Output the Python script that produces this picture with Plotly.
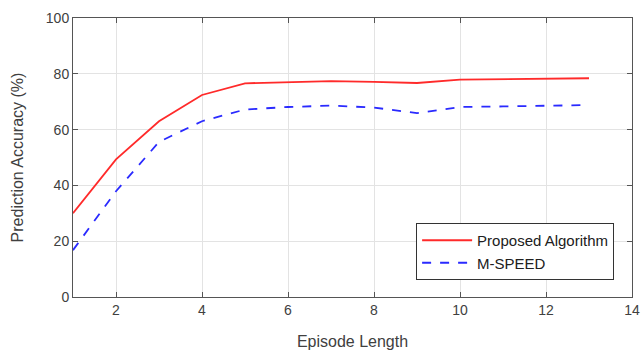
import plotly.graph_objects as go

episode_length = list(range(1, 14))
proposed = [30.0, 49.3, 63.0, 72.4, 76.6, 76.9, 77.4, 77.1, 76.7, 77.9, 78.1, 78.2, 78.4]
mspeed = [16.8, 37.9, 55.6, 63.0, 67.2, 68.1, 68.6, 67.9, 65.9, 68.1, 68.3, 68.6, 68.8]

fig = go.Figure()
fig.add_trace(go.Scatter(x=episode_length, y=proposed, mode="lines", name="Proposed Algorithm",
                         line=dict(color="#ff2a2a", width=1.8)))
fig.add_trace(go.Scatter(x=episode_length, y=mspeed, mode="lines", name="M-SPEED",
                         line=dict(color="#2a2aff", width=1.8, dash="dash")))

axis_common = dict(showline=True, linecolor="#555555", linewidth=1, mirror="ticks",
                   ticks="inside", ticklen=5, tickcolor="#555555", automargin=False,
                   showgrid=True, gridcolor="#e3e3e3", gridwidth=1, zeroline=False,
                   tickfont=dict(family="Liberation Sans, Arial", size=14, color="#404040"))

fig.update_layout(
    width=643, height=352,
    margin=dict(l=73, r=11, t=18, b=55),
    paper_bgcolor="white", plot_bgcolor="white",
    font=dict(family="Liberation Sans, Arial", size=14, color="#404040"),
    xaxis=dict(range=[1, 14], tickvals=[2, 4, 6, 8, 10, 12, 14],
               title=dict(text="Episode Length", standoff=19, font=dict(size=16, color="#404040")),
               **axis_common),
    yaxis=dict(range=[0, 100], tickvals=[0, 20, 40, 60, 80, 100],
               title=dict(text="Prediction Accuracy (%)", standoff=18, font=dict(size=16, color="#404040")),
               **axis_common),
    legend=dict(x=0.968, xanchor="right", y=0.061, yanchor="bottom",
                bordercolor="#333333", borderwidth=1, bgcolor="white", itemwidth=50,
                font=dict(size=15, color="#202020"), tracegroupgap=0),
    showlegend=True,
)

fig.write_html("out.html", config={"displayModeBar": False},
               post_script="document.body.style.margin='0';document.body.style.padding='0';")
